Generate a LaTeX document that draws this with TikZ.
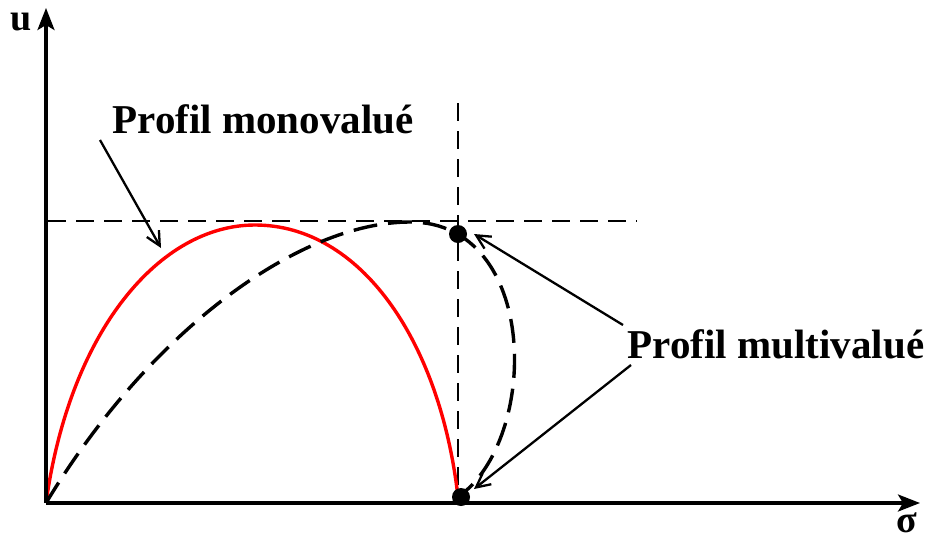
\documentclass[tikz,border=0pt]{standalone}
\usepackage{fontspec}
\setmainfont{Liberation Serif}
\usetikzlibrary{arrows.meta}
\begin{document}
\begin{tikzpicture}[x=1pt,y=-1pt,
  axis/.style={line width=3.2pt,-{Stealth[length=22pt,width=17pt,inset=5pt]}},
  guide/.style={line width=2.6pt,dash pattern=on 18pt off 10pt},
  curvered/.style={line width=3.4pt,red},
  curvedash/.style={line width=3.4pt,dash pattern=on 24pt off 11pt},
  pointer/.style={line width=2.3pt,-{Straight Barb[length=14pt,width=14pt,line width=2.3pt]}},
  lbl/.style={font=\bfseries\fontsize{41}{41}\selectfont,inner sep=0pt},
  dot/.style={circle,fill=black,inner sep=0pt,minimum size=18pt}]
\useasboundingbox (0,0) rectangle (929,539);
\coordinate (O) at (46,503);
\coordinate (ytop) at (46,8);
\coordinate (xend) at (920,503);
\coordinate (vtop) at (458,103);
\coordinate (vbot) at (458,503);
\coordinate (hl) at (48,221);
\coordinate (hr) at (637,221);
\coordinate (peakred) at (255,225);
\coordinate (peakdash) at (410,222);
\coordinate (bot) at (458,497);
% guides
\draw[guide] (vtop) -- (vbot);
\draw[guide] (hl) -- (hr);
% curves
\draw[curvered] (O) .. controls (70,330) and (160,225) .. (peakred)
  .. controls (360,225) and (440,340) .. (bot);
\draw[curvedash] (O) .. controls (150,330) and (300,222) .. (peakdash)
  .. controls (540,222) and (540,440) .. (bot);
% axes
\draw[axis] (O) -- (ytop);
\draw[axis] (O) -- (xend);
\node[font=\bfseries\fontsize{38}{38}\selectfont,inner sep=0pt] (u) at (21,22) {u};
\node[font=\bfseries\fontsize{38}{38}\selectfont,inner sep=0pt,text depth=0pt,text height=17pt,anchor=base] (sig) at (907,532) {σ};
% dots
\node[dot] (d1) at (458,234) {};
\node[dot] (d2) at (461,497) {};
% labels
\node[lbl] (mono) at (263,119) {Profil monovalué};
\node[lbl] (multi) at (776,344) {Profil multivalué};
\coordinate (m1) at (100,140);
\coordinate (m2) at (161,248);
\coordinate (a1) at (623,325);
\coordinate (a2) at (631,365);
\coordinate (t1) at (474,234);
\coordinate (t2) at (474,489);
\draw[pointer] (m1) -- (m2);
\draw[pointer] (a1) -- (t1);
\draw[pointer] (a2) -- (t2);
\end{tikzpicture}
\end{document}
